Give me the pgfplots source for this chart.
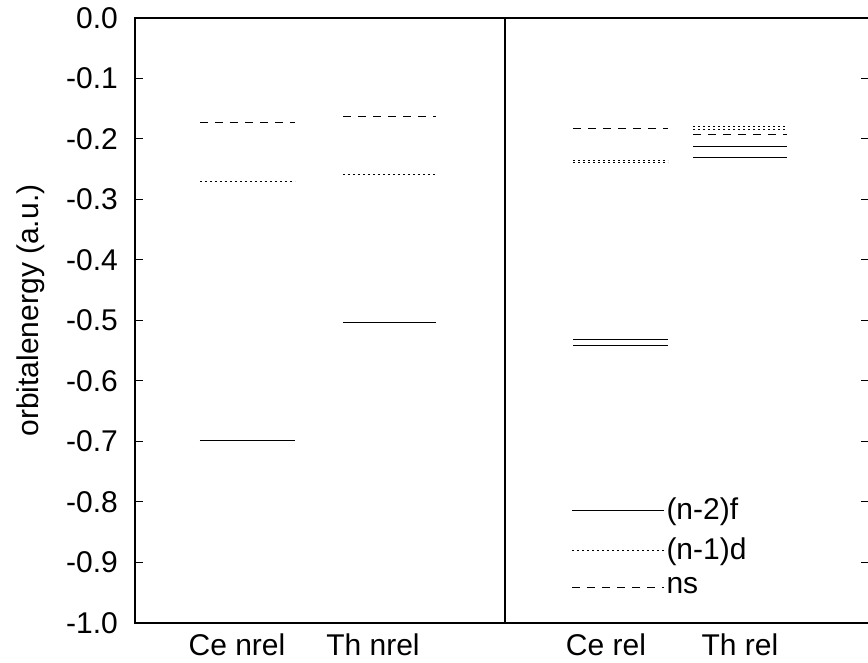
\documentclass[border=0pt]{standalone}
\usepackage{fontspec}
\setmainfont{Liberation Sans}
\usepackage{pgfplots}
\pgfplotsset{compat=1.18}
\begin{document}
\begin{tikzpicture}
\pgfplotsset{
  lf/.style={black, line width=0.55pt, solid, forget plot},
  ld/.style={black, line width=0.55pt, dash pattern=on 1.2pt off 1.3pt, forget plot},
  ls/.style={black, line width=0.5pt, dash pattern=on 4pt off 3.5pt, forget plot},
}
\begin{axis}[
  scale only axis,
  width=367pt, height=302.5pt,
  xmin=0, xmax=734, ymin=-1, ymax=0,
  axis line style={line width=0.6pt},
  /pgf/number format/assume math mode=true,
  tick label style={font=\fontsize{15}{18}\selectfont},
  label style={font=\fontsize{15}{18}\selectfont},
  xtick={102,238,471,605},
  xticklabels={Ce nrel, Th nrel, Ce rel, Th rel},
  xtick style={draw=none},
  xticklabel style={yshift=-2pt},
  ytick={-1,-0.9,-0.8,-0.7,-0.6,-0.5,-0.4,-0.3,-0.2,-0.1,0},
  yticklabels={-1.0,-0.9,-0.8,-0.7,-0.6,-0.5,-0.4,-0.3,-0.2,-0.1,0.0},
  yticklabel style={xshift=-5pt},
  ytick pos=both,
  tick align=inside,
  major tick length=4pt,
  tick style={line width=0.5pt, black},
  ylabel={orbitalenergy (a.u.)},
  ylabel style={at={(axis description cs:0,0.5)}, anchor=center, rotate=0, yshift=52pt, xshift=5pt},
  legend style={draw=none, fill=none, at={(axis cs:430,-0.783)}, anchor=north west,
    font=\fontsize{15}{18}\selectfont, row sep=5.5pt,
    nodes={inner sep=1pt}},
  legend cell align=left,
  legend image code/.code={\draw[#1] (0pt,0pt) -- (46pt,0pt);},
  /tikz/every even column/.append style={column sep=3pt},
]
% divider
\addplot[black, line width=0.6pt, forget plot] coordinates {(370,-1) (370,0)};
% Ce nrel
\addplot[lf] coordinates {(65,-0.698) (160,-0.698)};
\addplot[ld] coordinates {(65,-0.270) (160,-0.270)};
\addplot[ls] coordinates {(65,-0.172) (160,-0.172)};
% Th nrel
\addplot[lf] coordinates {(208,-0.503) (301,-0.503)};
\addplot[ld] coordinates {(208,-0.258) (301,-0.258)};
\addplot[ls] coordinates {(208,-0.163) (301,-0.163)};
% Ce rel
\addplot[lf] coordinates {(438,-0.532) (533,-0.532)};
\addplot[lf] coordinates {(438,-0.541) (533,-0.541)};
\addplot[ld] coordinates {(438,-0.235) (533,-0.235)};
\addplot[ld] coordinates {(438,-0.239) (533,-0.239)};
\addplot[ls] coordinates {(438,-0.182) (533,-0.182)};
% Th rel
\addplot[lf] coordinates {(558,-0.213) (652,-0.213)};
\addplot[lf] coordinates {(558,-0.231) (652,-0.231)};
\addplot[ld] coordinates {(558,-0.179) (652,-0.179)};
\addplot[ld] coordinates {(558,-0.185) (652,-0.185)};
\addplot[ls] coordinates {(558,-0.193) (652,-0.193)};
% legend
\addlegendimage{black, line width=0.55pt, solid}
\addlegendentry{(n-2)f}
\addlegendimage{black, line width=0.55pt, dash pattern=on 1.2pt off 1.3pt}
\addlegendentry{(n-1)d}
\addlegendimage{black, line width=0.5pt, dash pattern=on 4pt off 3.5pt}
\addlegendentry{ns}
\end{axis}
\pgfresetboundingbox
\path[use as bounding box] (-67.5pt,-20pt) rectangle (366.5pt,311.5pt);
\end{tikzpicture}
\end{document}
